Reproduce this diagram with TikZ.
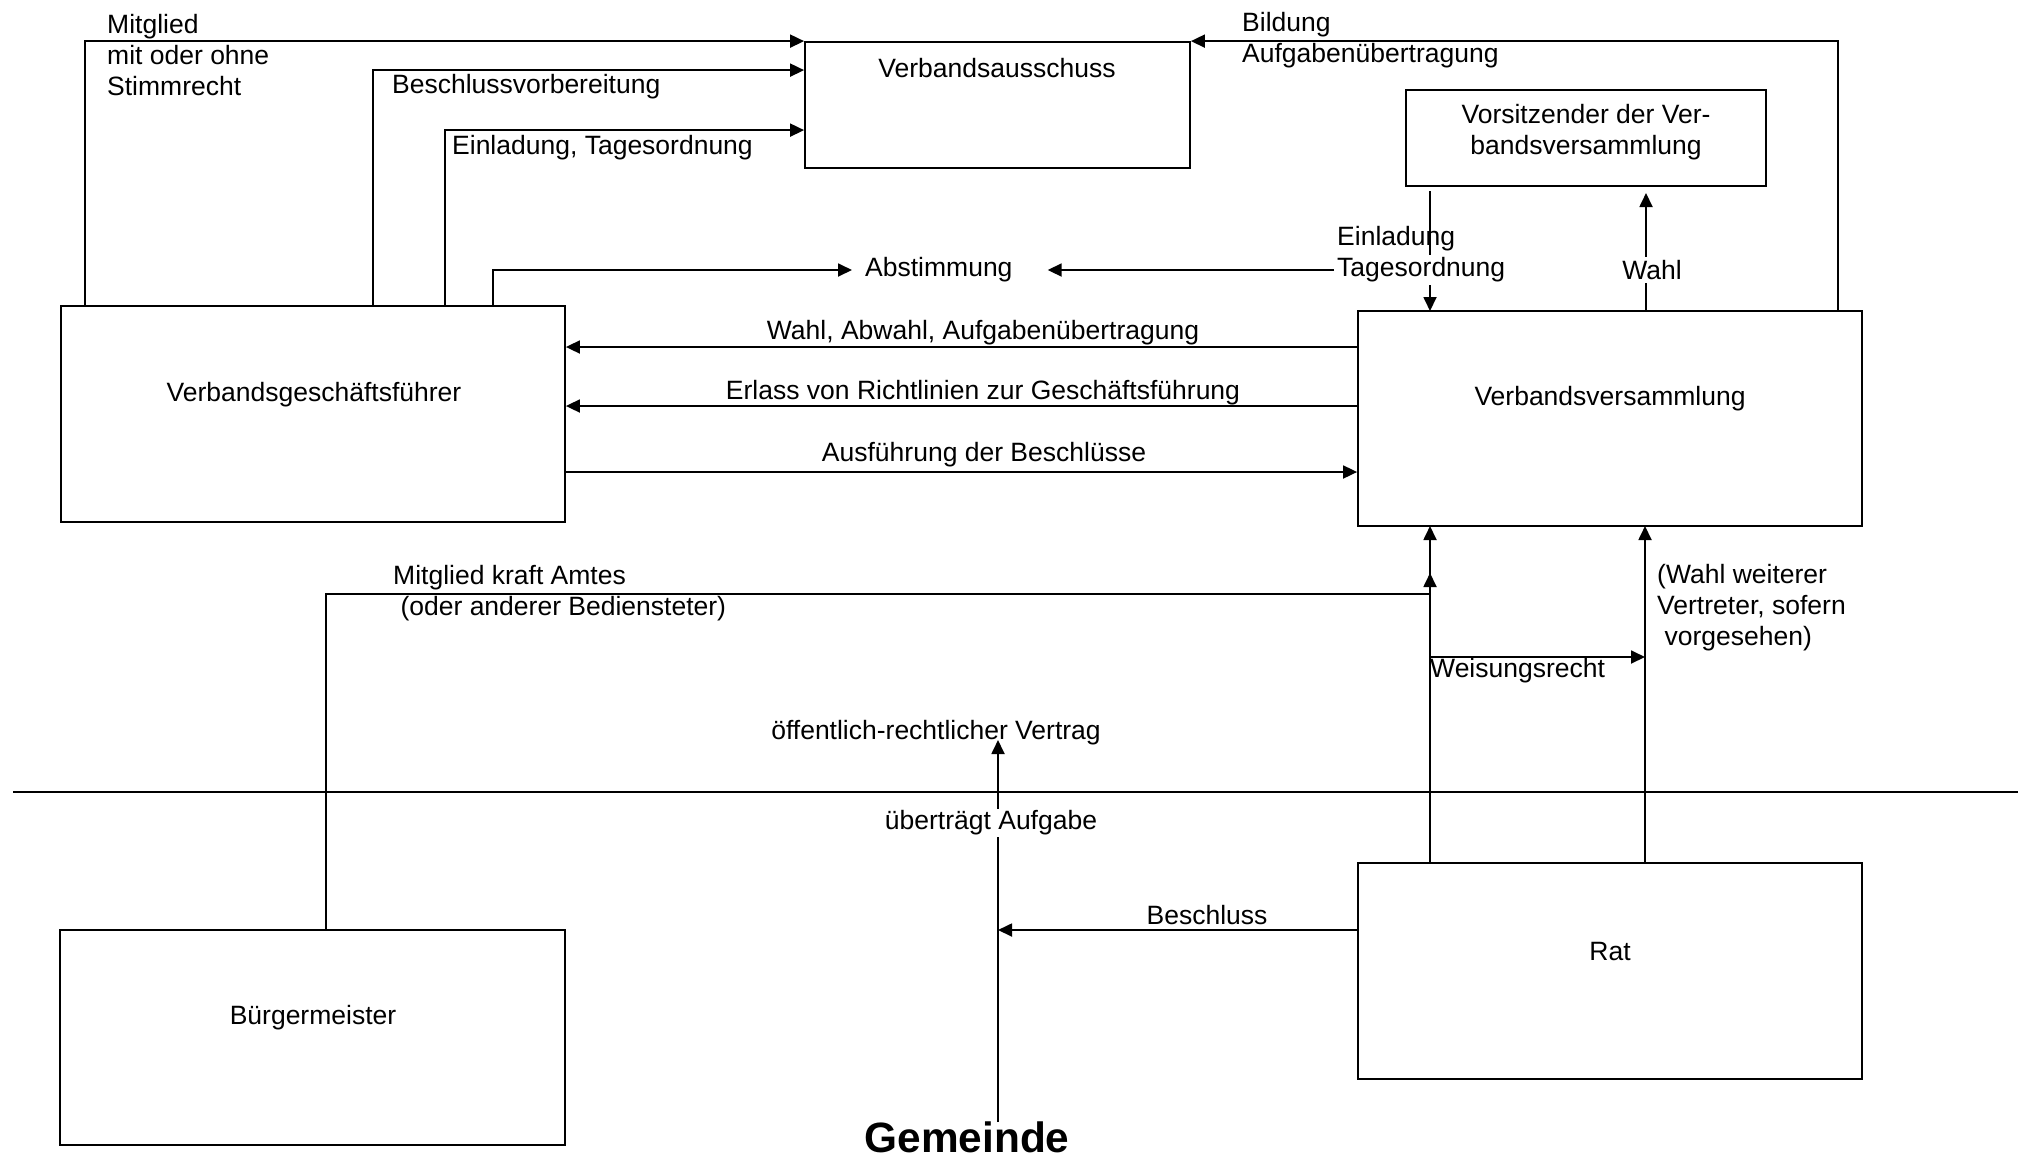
\documentclass[tikz,border=0pt]{standalone}
\usepackage{fontspec}
\setmainfont{Liberation Sans}
\usetikzlibrary{arrows.meta,calc}
\begin{document}
\begin{tikzpicture}[x=1pt,y=-1pt,
  every node/.style={font=\fontsize{26.5pt}{31pt}\selectfont, inner sep=0pt},
  box/.style={draw, line width=1.8pt, inner sep=0pt},
  conn/.style={line width=1.8pt},
  arr/.style={conn, -{Triangle[length=14pt,width=13pt]}},
  lbl/.style={anchor=west, align=left},
  mask/.style={fill=white, inner sep=3pt}
]
\useasboundingbox (0,0) rectangle (2018,1157);
\fill[white] (0,0) rectangle (2018,1157);

% boxes
\node[box, minimum width=385pt, minimum height=126pt] (aus) at (997.5,105) {};
\node[box, minimum width=360pt, minimum height=96pt] (vors) at (1586,138) {};
\node[box, minimum width=504pt, minimum height=216pt] (vgf) at (313,414) {};
\node[box, minimum width=504pt, minimum height=215pt] (vv) at (1610,418.5) {};
\node[box, minimum width=504pt, minimum height=216pt] (rat) at (1610,971) {};
\node[box, minimum width=505pt, minimum height=215pt] (bgm) at (312.5,1037.5) {};

% box texts
\node (ausT) at (997,68) {Verbandsausschuss};
\node[align=center] (vorsT) at (1586,132.5) {Vorsitzender der Ver-\\bandsversammlung};
\node (vgfT) at (314,395) {Verbandsgeschäftsführer};
\node (vvT) at (1610,399) {Verbandsversammlung};
\node (ratT) at (1610,951) {Rat};
\node (bgmT) at (313,1018) {Bürgermeister};
\node[font=\fontsize{42.4pt}{50pt}\selectfont\bfseries, anchor=base] (gem) at (967,1152) {Gemeinde};

% coordinates
\coordinate (c1) at (85,306);
\coordinate (c2) at (373,306);
\coordinate (c3) at (445,306);
\coordinate (c4) at (493,306);
\coordinate (c5) at (1838,311);
\coordinate (g1) at (1430,191);
\coordinate (g2) at (1430,311);
\coordinate (w1) at (1646,311);
\coordinate (w2) at (1646,193);
\coordinate (m1) at (326,930);
\coordinate (m2) at (1430,594);
\coordinate (m3) at (1430,573);
\coordinate (r1) at (1430,863);
\coordinate (r2) at (1430,526);
\coordinate (r3) at (1645,863);
\coordinate (r4) at (1645,526);
\coordinate (ws1) at (1430,657);
\coordinate (ws2) at (1645,657);
\coordinate (sepL) at (13,792);
\coordinate (sepR) at (2018,792);
\coordinate (ov) at (998,740);
\coordinate (gtop) at (998,1122);
\coordinate (bs) at (998,930);

% Abstimmung
\node[anchor=west] (abst) at (865,270) {Abstimmung};
\coordinate (abL) at ($(abst.west)+(-13,0)$);
\coordinate (abR) at ($(abst.east)+(35,0)$);

% connectors to Verbandsausschuss
\draw[arr] (c1) |- (aus.north west);
\draw[arr] (c2) |- ($(aus.north west)+(0,29)$);
\draw[arr] (c3) |- ($(aus.north west)+(0,89)$);
\draw[arr] (c4) |- (abL);
\draw[arr] (c5) |- (aus.north east);

% Vorsitzender <-> Verbandsversammlung
\draw[arr] (g1) -- (g2);
\draw[arr] (w1) -- (w2);

% VV <-> VGF
\draw[arr] (vv.west |- 0,347) -- (vgf.east |- 0,347);
\draw[arr] (vv.west |- 0,406) -- (vgf.east |- 0,406);
\draw[arr] (vgf.east |- 0,472) -- (vv.west |- 0,472);

% lower part
\draw[arr] (m1) |- (m2) -- (m3);
\draw[arr] (r1) -- (r2);
\draw[arr] (r3) -- (r4);
\draw[arr] (ws1) -- (ws2);
\draw[line width=2.2pt] (sepL) -- (sepR);
\draw[arr] (gtop) -- (ov);
\draw[arr] (rat.west |- bs) -- (bs);

% labels
\node[lbl] (mitg) at (107,55) {Mitglied\\mit oder ohne\\Stimmrecht};
\node[lbl] (bv) at (392,87) {Beschlussvorbereitung};
\node[lbl] (eint) at (452,148) {Einladung, Tagesordnung};
\node[lbl] (bild) at (1242,40) {Bildung\\Aufgabenübertragung};
\node[lbl] (einl) at (1337,239) {Einladung};
\node[lbl, mask] (tages) at (1334,270) {Tagesordnung};
\draw[arr] (tages.west |- abR) -- (abR);
\node[mask] (wahl) at (1652,270) {Wahl};
\node (wahlab) at (983,333) {Wahl, Abwahl, Aufgabenübertragung};
\node (erlass) at (983,393) {Erlass von Richtlinien zur Geschäftsführung};
\node (ausf) at (984,455) {Ausführung der Beschlüsse};
\node[lbl] (mka) at (393,593) {Mitglied kraft Amtes\\~(oder anderer Bediensteter)};
\node[lbl] (wwv) at (1657,608) {(Wahl weiterer\\Vertreter, sofern\\~vorgesehen)};
\node[lbl] (weis) at (1430,671) {Weisungsrecht};
\node (oerv) at (936,733) {öffentlich-rechtlicher Vertrag};
\node[mask, inner sep=2pt] (uea) at (991,823) {überträgt Aufgabe};
\node (besch) at (1207,915) {Beschluss};
\end{tikzpicture}
\end{document}
